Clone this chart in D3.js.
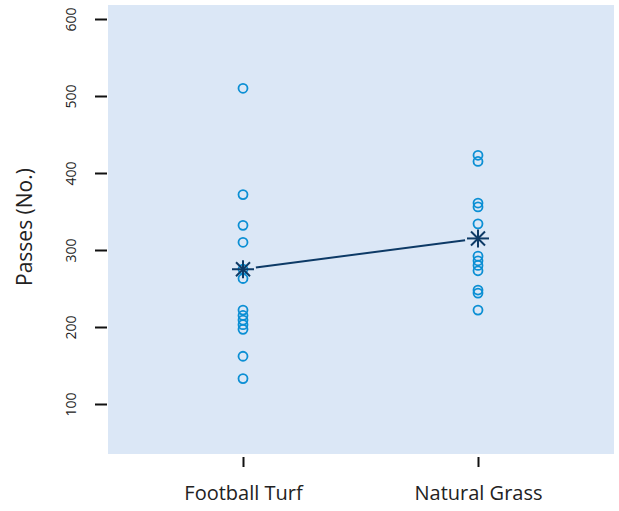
<!DOCTYPE html>
<html><head><meta charset="utf-8">
<script src="https://cdn.jsdelivr.net/npm/d3@7"></script>
<style>body{margin:0;background:#fff}</style>
</head><body>
<svg id="c" width="619" height="511"></svg>
<script>
const categories = ["Football Turf", "Natural Grass"];
const turfValues = [510, 372, 332, 310, 275, 263, 222, 215, 209, 203, 197, 162, 133];
const grassValues = [423, 415, 361, 356, 334, 292, 286, 280, 273, 248, 244, 222];
const meanValues = [275, 315];
const yTicks = [100, 200, 300, 400, 500, 600];

const svg = d3.select("#c");
const panel = {left: 108, right: 614, top: 5, bottom: 454};
const x = d3.scalePoint().domain(categories).range([243, 478]);
const y = d3.scaleLinear().domain([300, 400]).range([250, 173]);
const font = "Open Sans";

svg.append("rect").attr("x", panel.left).attr("y", panel.top)
  .attr("width", panel.right - panel.left).attr("height", panel.bottom - panel.top)
  .attr("fill", "#dbe7f6");

// Y axis
const yAxis = d3.axisLeft(y).tickValues(yTicks).tickSize(12).tickPadding(0).tickFormat(d3.format("d"));
const gy = svg.append("g").attr("transform", `translate(${panel.left - 1},0)`).call(yAxis);
gy.select(".domain").remove();
gy.selectAll(".tick line").attr("stroke", "#111").attr("stroke-width", 2);
gy.selectAll(".tick text").attr("transform", "rotate(-90)")
  .attr("x", 0).attr("y", -36).attr("dy", "0.35em").attr("text-anchor", "middle")
  .attr("font-family", font).attr("font-size", 14).attr("fill", "#222");

// X axis
const xAxis = d3.axisBottom(x).tickSize(10);
const gx = svg.append("g").attr("transform", `translate(0,${panel.bottom + 3})`).call(xAxis);
gx.select(".domain").remove();
gx.selectAll(".tick line").attr("stroke", "#111").attr("stroke-width", 2);
gx.selectAll(".tick text").attr("y", 43).attr("dy", 0)
  .attr("font-family", font).attr("font-size", 20).attr("fill", "#222");

// Y title
svg.append("text").attr("transform", "translate(32,227) rotate(-90)")
  .attr("text-anchor", "middle").attr("font-family", font).attr("font-size", 21)
  .attr("fill", "#222").text("Passes (No.)");

// points
const pts = [];
turfValues.forEach(v => pts.push({c: categories[0], v}));
grassValues.forEach(v => pts.push({c: categories[1], v}));
svg.append("g").selectAll("circle").data(pts).join("circle")
  .attr("cx", d => x(d.c)).attr("cy", d => y(d.v)).attr("r", 4.5)
  .attr("fill", "none").attr("stroke", "#0b8fd4").attr("stroke-width", 1.8);

// mean line with gaps
const mx = categories.map(c => x(c)), my = meanValues.map(v => y(v));
const dx = mx[1] - mx[0], dy = my[1] - my[0], L = Math.hypot(dx, dy), gap = 13;
svg.append("line")
  .attr("x1", mx[0] + dx / L * gap).attr("y1", my[0] + dy / L * gap)
  .attr("x2", mx[1] - dx / L * gap).attr("y2", my[1] - dy / L * gap)
  .attr("stroke", "#0d3a66").attr("stroke-width", 2);

// asterisks
const star = svg.append("g").selectAll("g").data(meanValues).join("g")
  .attr("transform", (d, i) => `translate(${x(categories[i])},${y(d)})`);
const arms = [[-11, 0, 11, 0], [0, -9, 0, 9], [-7, -7, 7, 7], [-7, 7, 7, -7]];
arms.forEach(a => star.append("line").attr("x1", a[0]).attr("y1", a[1]).attr("x2", a[2]).attr("y2", a[3])
  .attr("stroke", "#0d3a66").attr("stroke-width", 2));
</script>
</body></html>
